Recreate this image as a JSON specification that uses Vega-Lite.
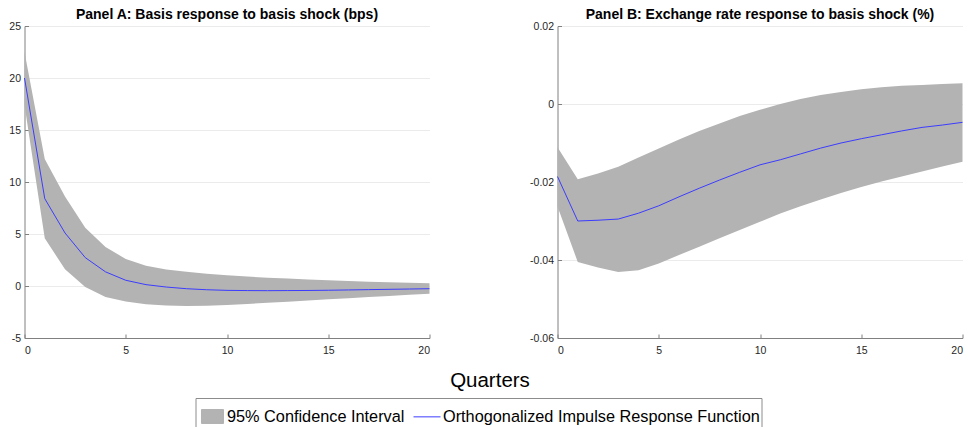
{
  "$schema": "https://vega.github.io/schema/vega-lite/v6.json",
  "padding": {"left": 8.5, "top": 8, "right": 0, "bottom": 0},
  "background": "white",
  "config": {
    "view": {"stroke": null},
    "font": "Liberation Sans",
    "axis": {
      "domainColor": "#808080",
      "tickColor": "#808080",
      "labelColor": "#262626",
      "labelFontSize": 10.5,
      "labelFont": "Liberation Sans",
      "gridColor": "#ebebeb",
      "tickSize": -4,
      "title": null
    },
    "axisX": {"grid": false, "labelPadding": 11},
    "axisY": {"grid": true, "labelPadding": 8},
    "title": {"fontSize": 14, "fontWeight": "bold", "color": "#000000", "offset": -1, "baseline": "alphabetic", "frame": "group", "font": "Liberation Sans"}
  },
  "hconcat": [
    {
      "width": 405,
      "height": 312,
      "title": "Panel A: Basis response to basis shock (bps)",
      "data": {"values": [
        {"q": 0, "lo": 17.4, "hi": 22.5, "irf": 20.0},
        {"q": 1, "lo": 4.6, "hi": 12.2, "irf": 8.4},
        {"q": 2, "lo": 1.6, "hi": 8.6, "irf": 5.1},
        {"q": 3, "lo": -0.1, "hi": 5.6, "irf": 2.73},
        {"q": 4, "lo": -1.05, "hi": 3.75, "irf": 1.36},
        {"q": 5, "lo": -1.5, "hi": 2.6, "irf": 0.55},
        {"q": 6, "lo": -1.75, "hi": 1.95, "irf": 0.13},
        {"q": 7, "lo": -1.87, "hi": 1.58, "irf": -0.1},
        {"q": 8, "lo": -1.92, "hi": 1.36, "irf": -0.26},
        {"q": 9, "lo": -1.9, "hi": 1.18, "irf": -0.36},
        {"q": 10, "lo": -1.82, "hi": 1.03, "irf": -0.42},
        {"q": 11, "lo": -1.72, "hi": 0.91, "irf": -0.44},
        {"q": 12, "lo": -1.62, "hi": 0.8, "irf": -0.45},
        {"q": 13, "lo": -1.51, "hi": 0.71, "irf": -0.44},
        {"q": 14, "lo": -1.4, "hi": 0.63, "irf": -0.43},
        {"q": 15, "lo": -1.28, "hi": 0.55, "irf": -0.41},
        {"q": 16, "lo": -1.17, "hi": 0.48, "irf": -0.38},
        {"q": 17, "lo": -1.06, "hi": 0.42, "irf": -0.35},
        {"q": 18, "lo": -0.95, "hi": 0.36, "irf": -0.32},
        {"q": 19, "lo": -0.85, "hi": 0.31, "irf": -0.29},
        {"q": 20, "lo": -0.75, "hi": 0.27, "irf": -0.26}
      ]},
      "layer": [
        {
          "mark": {"type": "area", "opacity": 1},
          "encoding": {
            "x": {"field": "q", "type": "quantitative", "scale": {"domain": [0, 20], "nice": false},
                  "axis": {"values": [0, 5, 10, 15, 20], "title": "Quarters", "titleX": 465, "titleY": 48,
                           "titleBaseline": "alphabetic", "titleFontSize": 20.5, "titleFontWeight": "normal",
                           "titleColor": "#000000", "titleFont": "Liberation Sans"}},
            "y": {"field": "lo", "type": "quantitative", "scale": {"domain": [-5, 25], "nice": false},
                  "axis": {"values": [-5, 0, 5, 10, 15, 20, 25], "labelExpr": "'' + datum.value"}},
            "y2": {"field": "hi"},
            "color": {"datum": "95% Confidence Interval", "type": "nominal"}
          }
        },
        {
          "mark": {"type": "line", "strokeWidth": 1},
          "encoding": {
            "x": {"field": "q", "type": "quantitative"},
            "y": {"field": "irf", "type": "quantitative"},
            "color": {"datum": "Orthogonalized Impulse Response Function", "type": "nominal"}
          }
        }
      ]
    },
    {
      "width": 405,
      "height": 312,
      "title": "Panel B: Exchange rate response to basis shock (%)",
      "data": {"values": [
        {"q": 0, "lo": -0.0263, "hi": -0.0111, "irf": -0.0186},
        {"q": 1, "lo": -0.0405, "hi": -0.0193, "irf": -0.0300},
        {"q": 2, "lo": -0.0419, "hi": -0.0178, "irf": -0.0298},
        {"q": 3, "lo": -0.0431, "hi": -0.0161, "irf": -0.0295},
        {"q": 4, "lo": -0.0426, "hi": -0.0137, "irf": -0.0280},
        {"q": 5, "lo": -0.0409, "hi": -0.0114, "irf": -0.0261},
        {"q": 6, "lo": -0.0387, "hi": -0.0091, "irf": -0.0238},
        {"q": 7, "lo": -0.0366, "hi": -0.0069, "irf": -0.0216},
        {"q": 8, "lo": -0.0344, "hi": -0.0050, "irf": -0.0195},
        {"q": 9, "lo": -0.0323, "hi": -0.0031, "irf": -0.0175},
        {"q": 10, "lo": -0.0302, "hi": -0.0015, "irf": -0.0156},
        {"q": 11, "lo": -0.0281, "hi": 0.0000, "irf": -0.0143},
        {"q": 12, "lo": -0.0262, "hi": 0.0013, "irf": -0.0128},
        {"q": 13, "lo": -0.0245, "hi": 0.0023, "irf": -0.0113},
        {"q": 14, "lo": -0.0228, "hi": 0.0031, "irf": -0.0100},
        {"q": 15, "lo": -0.0213, "hi": 0.0038, "irf": -0.0089},
        {"q": 16, "lo": -0.0199, "hi": 0.0043, "irf": -0.0079},
        {"q": 17, "lo": -0.0186, "hi": 0.0047, "irf": -0.0069},
        {"q": 18, "lo": -0.0173, "hi": 0.0049, "irf": -0.0060},
        {"q": 19, "lo": -0.0160, "hi": 0.0051, "irf": -0.0054},
        {"q": 20, "lo": -0.0148, "hi": 0.0053, "irf": -0.0047}
      ]},
      "layer": [
        {
          "mark": {"type": "area", "opacity": 1},
          "encoding": {
            "x": {"field": "q", "type": "quantitative", "scale": {"domain": [0, 20], "nice": false},
                  "axis": {"values": [0, 5, 10, 15, 20]}},
            "y": {"field": "lo", "type": "quantitative", "scale": {"domain": [-0.06, 0.02], "nice": false, "zero": false},
                  "axis": {"values": [-0.06, -0.04, -0.02, 0, 0.02], "labelExpr": "'' + datum.value"}},
            "y2": {"field": "hi"},
            "color": {"datum": "95% Confidence Interval", "type": "nominal"}
          }
        },
        {
          "mark": {"type": "line", "strokeWidth": 1},
          "encoding": {
            "x": {"field": "q", "type": "quantitative"},
            "y": {"field": "irf", "type": "quantitative"},
            "color": {"datum": "Orthogonalized Impulse Response Function", "type": "nominal",
                      "scale": {"domain": ["95% Confidence Interval", "Orthogonalized Impulse Response Function"],
                                "range": ["#b3b3b3", "#3c3cff"]},
                      "legend": {
                        "orient": "none", "legendX": 171, "legendY": 372,
                        "direction": "horizontal", "title": " ", "titleFontSize": 1, "titlePadding": 2,
                        "titleOrient": "top",
                        "labelFontSize": 16.3, "labelColor": "#000000", "labelFont": "Liberation Sans",
                        "labelLimit": 500,
                        "strokeColor": "#8c8c8c", "padding": 1.5, "columnPadding": 6,
                        "symbolSize": 484, "labelOffset": 2,
                        "encode": {"symbols": {"update": {
                          "shape": {"signal": "datum.value === '95% Confidence Interval' ? 'M-0.864,-0.636H1.136V0.636H-0.864Z' : 'stroke'"},
                          "size": {"signal": "datum.value === '95% Confidence Interval' ? 484 : 729"},
                          "fill": {"signal": "datum.value === '95% Confidence Interval' ? '#b3b3b3' : 'transparent'"},
                          "stroke": {"signal": "datum.value === '95% Confidence Interval' ? 'transparent' : '#4040ff'"},
                          "strokeWidth": {"value": 1},
                          "opacity": {"value": 1}
                        }}}
                      }}
          }
        }
      ]
    }
  ],
  "spacing": 128,
  "bounds": "flush",
  "resolve": {"scale": {"color": "shared"}}
}
